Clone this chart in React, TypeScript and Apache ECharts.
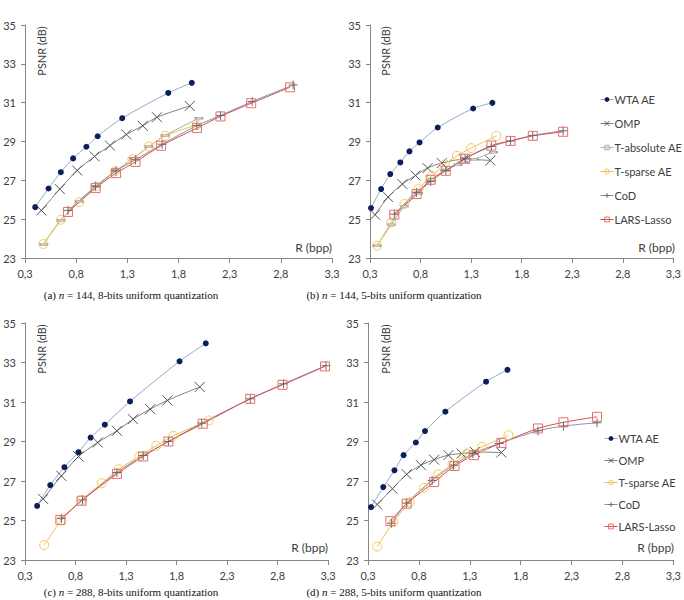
import { useEffect, useRef } from 'react';
import * as echarts from 'echarts';

// ---- axis ticks ----
const X_TICKS = [0.3, 0.8, 1.3, 1.8, 2.3, 2.8, 3.3];
const Y_TICKS = [23, 25, 27, 29, 31, 33, 35];

const SERIES_NAMES = ['WTA AE', 'OMP', 'T-absolute AE', 'T-sparse AE', 'CoD', 'LARS-Lasso'];

// ---- (a) n = 144, 8-bits ----
const WTA_A = [[0.40, 25.62], [0.53, 26.58], [0.65, 27.42], [0.77, 28.13], [0.90, 28.73], [1.01, 29.27], [1.25, 30.2], [1.70, 31.5], [1.93, 32.02]];
const OMP_A = [[0.46, 25.45], [0.64, 26.55], [0.81, 27.51], [0.98, 28.23], [1.13, 28.79], [1.29, 29.36], [1.45, 29.81], [1.59, 30.25], [1.91, 30.83]];
const TABS_A = [[0.48, 23.69], [0.65, 24.94], [0.83, 25.91], [1.00, 26.69], [1.19, 27.51], [1.36, 28.14], [1.51, 28.74], [1.67, 29.31], [2.00, 30.2]];
const TSP_A = [[0.48, 23.72], [0.65, 24.97], [0.83, 25.88], [0.99, 26.69], [1.18, 27.46], [1.35, 28.09], [1.51, 28.74], [1.67, 29.29], [1.98, 29.86]];
const COD_A = [[0.72, 25.45], [0.99, 26.69], [1.19, 27.49], [1.38, 28.06], [1.64, 28.86], [1.98, 29.82], [2.21, 30.34], [2.52, 31.06], [2.92, 31.91]];
const LARS_A = [[0.72, 25.37], [0.99, 26.6], [1.19, 27.37], [1.38, 27.95], [1.63, 28.78], [1.98, 29.69], [2.21, 30.29], [2.51, 30.97], [2.89, 31.79]];

// ---- (b) n = 144, 5-bits ----
const WTA_B = [[0.31, 25.57], [0.41, 26.55], [0.50, 27.32], [0.60, 27.92], [0.69, 28.49], [0.79, 28.95], [0.97, 29.72], [1.32, 30.70], [1.51, 30.99]];
const OMP_B = [[0.35, 25.23], [0.48, 26.14], [0.62, 26.81], [0.75, 27.25], [0.87, 27.63], [1.01, 27.89], [1.23, 28.09], [1.49, 28.02]];
const TABS_B = [[0.37, 23.63], [0.51, 24.71], [0.64, 25.66], [0.78, 26.34], [0.91, 27.03], [1.04, 27.51], [1.17, 27.8], [1.33, 28.09], [1.52, 28.45]];
const TSP_B = [[0.37, 23.63], [0.51, 24.83], [0.64, 25.79], [0.78, 26.57], [0.91, 27.23], [1.04, 27.83], [1.16, 28.26], [1.30, 28.66], [1.55, 29.29]];
const COD_B = [[0.54, 25.26], [0.76, 26.38], [0.90, 26.94], [1.05, 27.51], [1.24, 28.14], [1.50, 28.74], [1.69, 29.03], [1.91, 29.31], [2.21, 29.55]];
const LARS_B = [[0.54, 25.23], [0.76, 26.29], [0.90, 27.03], [1.05, 27.49], [1.24, 28.11], [1.50, 28.79], [1.69, 29.03], [1.91, 29.29], [2.21, 29.5]];

// ---- (c) n = 288, 8-bits ----
const WTA_C = [[0.42, 25.74], [0.55, 26.79], [0.69, 27.70], [0.83, 28.46], [0.95, 29.20], [1.09, 29.85], [1.34, 31.03], [1.83, 33.06], [2.09, 33.97]];
const OMP_C = [[0.48, 26.09], [0.66, 27.26], [0.83, 28.24], [1.02, 28.95], [1.21, 29.54], [1.37, 30.13], [1.54, 30.64], [1.71, 31.08], [2.03, 31.76]];
const TSP_C = [[0.49, 23.76], [0.66, 24.99], [0.86, 26.04], [1.06, 26.89], [1.23, 27.6], [1.43, 28.24], [1.60, 28.78], [1.77, 29.29], [2.12, 30.07]];
const COD_C = [[0.66, 25.11], [0.87, 26.04], [1.21, 27.43], [1.47, 28.29], [1.72, 29.0], [2.05, 29.93], [2.53, 31.16], [2.86, 31.92], [3.28, 32.84]];
const LARS_C = [[0.65, 25.03], [0.86, 26.0], [1.21, 27.36], [1.47, 28.24], [1.72, 29.0], [2.06, 29.9], [2.53, 31.16], [2.85, 31.87], [3.27, 32.80]];

// ---- (d) n = 288, 5-bits ----
const WTA_D = [[0.33, 25.68], [0.45, 26.69], [0.56, 27.54], [0.65, 28.31], [0.77, 28.95], [0.86, 29.53], [1.06, 30.51], [1.46, 32.03], [1.67, 32.63]];
const OMP_D = [[0.39, 25.81], [0.54, 26.61], [0.68, 27.34], [0.82, 27.80], [0.95, 28.08], [1.09, 28.31], [1.22, 28.39], [1.35, 28.47], [1.61, 28.44]];
const TSP_D = [[0.39, 23.68], [0.55, 24.92], [0.71, 25.93], [0.85, 26.66], [0.99, 27.34], [1.13, 27.85], [1.27, 28.36], [1.42, 28.73], [1.68, 29.32]];
const COD_D = [[0.53, 24.86], [0.68, 25.88], [0.93, 27.03], [1.14, 27.80], [1.33, 28.39], [1.59, 28.90], [1.97, 29.54], [2.22, 29.78], [2.55, 29.95]];
const LARS_D = [[0.52, 24.97], [0.68, 25.85], [0.95, 26.95], [1.15, 27.76], [1.34, 28.31], [1.61, 28.93], [1.97, 29.66], [2.22, 29.97], [2.55, 30.25]];

const PANELS = [
  [WTA_A, OMP_A, TABS_A, TSP_A, COD_A, LARS_A],
  [WTA_B, OMP_B, TABS_B, TSP_B, COD_B, LARS_B],
  [WTA_C, OMP_C, null, TSP_C, COD_C, LARS_C],
  [WTA_D, OMP_D, null, TSP_D, COD_D, LARS_D],
];

const CAPTIONS = [
  ['(a) ', 'n', ' = 144, 8-bits uniform quantization'],
  ['(b) ', 'n', ' = 144, 5-bits uniform quantization'],
  ['(c) ', 'n', ' = 288, 8-bits uniform quantization'],
  ['(d) ', 'n', ' = 288, 5-bits uniform quantization'],
];

const FONT = 'Lato, "Open Sans", sans-serif';
const TXT = '#404040';
const AXIS = '#868686';

const STYLE: Record<string, any> = {
  'WTA AE': { symbol: 'circle', size: 6, item: { color: '#0c1f5b' }, line: '#98a8ca' },
  'OMP': { symbol: 'path://M0,0L10,10M10,0L0,10', size: 10, item: { color: 'rgba(0,0,0,0)', borderColor: '#555555', borderWidth: 1 }, line: '#7f7f7f' },
  'T-absolute AE': { symbol: 'rect', size: [7, 2], item: { color: '#d4d4d4', borderColor: '#9a9a9a', borderWidth: 0.5 }, line: '#ababab' },
  'T-sparse AE': { symbol: 'circle', size: 9, item: { color: 'rgba(0,0,0,0)', borderColor: '#f4c85a', borderWidth: 1 }, line: '#efbf4e' },
  'CoD': { symbol: 'path://M5,0L5,10M0,5L10,5', size: 9, item: { color: 'rgba(0,0,0,0)', borderColor: '#6a6a6a', borderWidth: 1 }, line: '#8a90aa' },
  'LARS-Lasso': { symbol: 'rect', size: 9, item: { color: 'rgba(0,0,0,0)', borderColor: '#e66e6e', borderWidth: 1 }, line: '#d24f4f' },
};

const GRIDS = [
  { left: 25, top: 25, width: 307, height: 233 },
  { left: 370, top: 25, width: 305, height: 233 },
  { left: 25, top: 323, width: 303, height: 237 },
  { left: 368, top: 323, width: 306, height: 237 },
];

function buildOption() {
  const xAxis: any[] = [];
  const yAxis: any[] = [];
  const series: any[] = [];
  const graphic: any[] = [];
  GRIDS.forEach((g, i) => {
    xAxis.push({
      type: 'value', gridIndex: i, min: 0.3, max: 3.3,
      axisLine: { show: true, lineStyle: { color: AXIS, width: 1 } },
      axisTick: { show: true, length: 5, customValues: X_TICKS, lineStyle: { color: AXIS } },
      axisLabel: { customValues: X_TICKS, margin: 10, fontFamily: FONT, fontSize: 11, color: TXT,
        formatter: (v: number) => v.toFixed(1).replace('.', ',') },
      splitLine: { show: false },
    });
    yAxis.push({
      type: 'value', gridIndex: i, min: 23, max: 35,
      axisLine: { show: true, lineStyle: { color: AXIS, width: 1 } },
      axisTick: { show: true, length: 4, customValues: Y_TICKS, lineStyle: { color: AXIS } },
      axisLabel: { customValues: Y_TICKS, margin: 9, fontFamily: FONT, fontSize: 11, color: TXT },
      splitLine: { show: false },
    });
    PANELS[i].forEach((data, k) => {
      if (!data) return;
      const name = SERIES_NAMES[k];
      const s = STYLE[name];
      series.push({
        type: 'line', name, xAxisIndex: i, yAxisIndex: i, data,
        symbol: s.symbol, symbolSize: s.size, showAllSymbol: true,
        smooth: 0.3,
        lineStyle: { color: s.line, width: 1 },
        itemStyle: s.item,
        emphasis: { disabled: true },
      });
    });
    const top = i < 2;
    const left = i % 2 === 0;
    graphic.push({
      type: 'text', x: left ? 41 : 385, y: top ? 51 : 349, rotation: Math.PI / 2,
      style: { text: 'PSNR (dB)', font: `11px ${FONT}`, fill: TXT, align: 'center', verticalAlign: 'middle' },
    });
    graphic.push({
      type: 'text', x: g.left + g.width, y: top ? 247 : 547,
      style: { text: 'R (bpp)', font: `12px ${FONT}`, fill: TXT, align: 'right', verticalAlign: 'middle' },
    });
    const c = CAPTIONS[i];
    graphic.push({
      type: 'text', x: left ? 131 : 394, y: top ? 295 : 592,
      style: {
        text: `${c[0]}{i|${c[1]}}${c[2]}`,
        font: '11px "Liberation Serif", "DejaVu Serif", serif', fill: '#111',
        align: 'center', verticalAlign: 'middle',
        rich: { i: { fontStyle: 'italic', fontFamily: '"Liberation Serif", serif', fontSize: 11, fill: '#111' } },
      },
    });
  });

  const legendItem = (n: string) => ({
    name: n,
    itemStyle: STYLE[n].item,
    lineStyle: { color: STYLE[n].line, width: 1 },
  });
  const legendCommon = {
    orient: 'vertical', itemWidth: 13, itemHeight: 6, selectedMode: false,
    textStyle: { fontFamily: FONT, fontSize: 11, color: TXT, padding: [0, 0, 0, -4] },
  };
  return {
    animation: false,
    backgroundColor: '#ffffff',
    grid: GRIDS.map((g) => ({ ...g, containLabel: false })),
    xAxis, yAxis, series, graphic,
    legend: [
      { ...legendCommon, data: SERIES_NAMES.map(legendItem), left: 595, top: 89, itemGap: 13 },
      { ...legendCommon, data: SERIES_NAMES.filter((n) => n !== 'T-absolute AE').map(legendItem), left: 599, top: 428, itemGap: 11 },
    ],
  };
}

export default function App() {
  const ref = useRef<HTMLDivElement>(null);
  useEffect(() => {
    if (!ref.current) return;
    const chart = echarts.init(ref.current, undefined, { renderer: 'svg' });
    chart.setOption(buildOption() as any);
    return () => chart.dispose();
  }, []);
  return <div ref={ref} style={{ position: 'absolute', left: 0, top: 0, width: 684, height: 600 }} />;
}
